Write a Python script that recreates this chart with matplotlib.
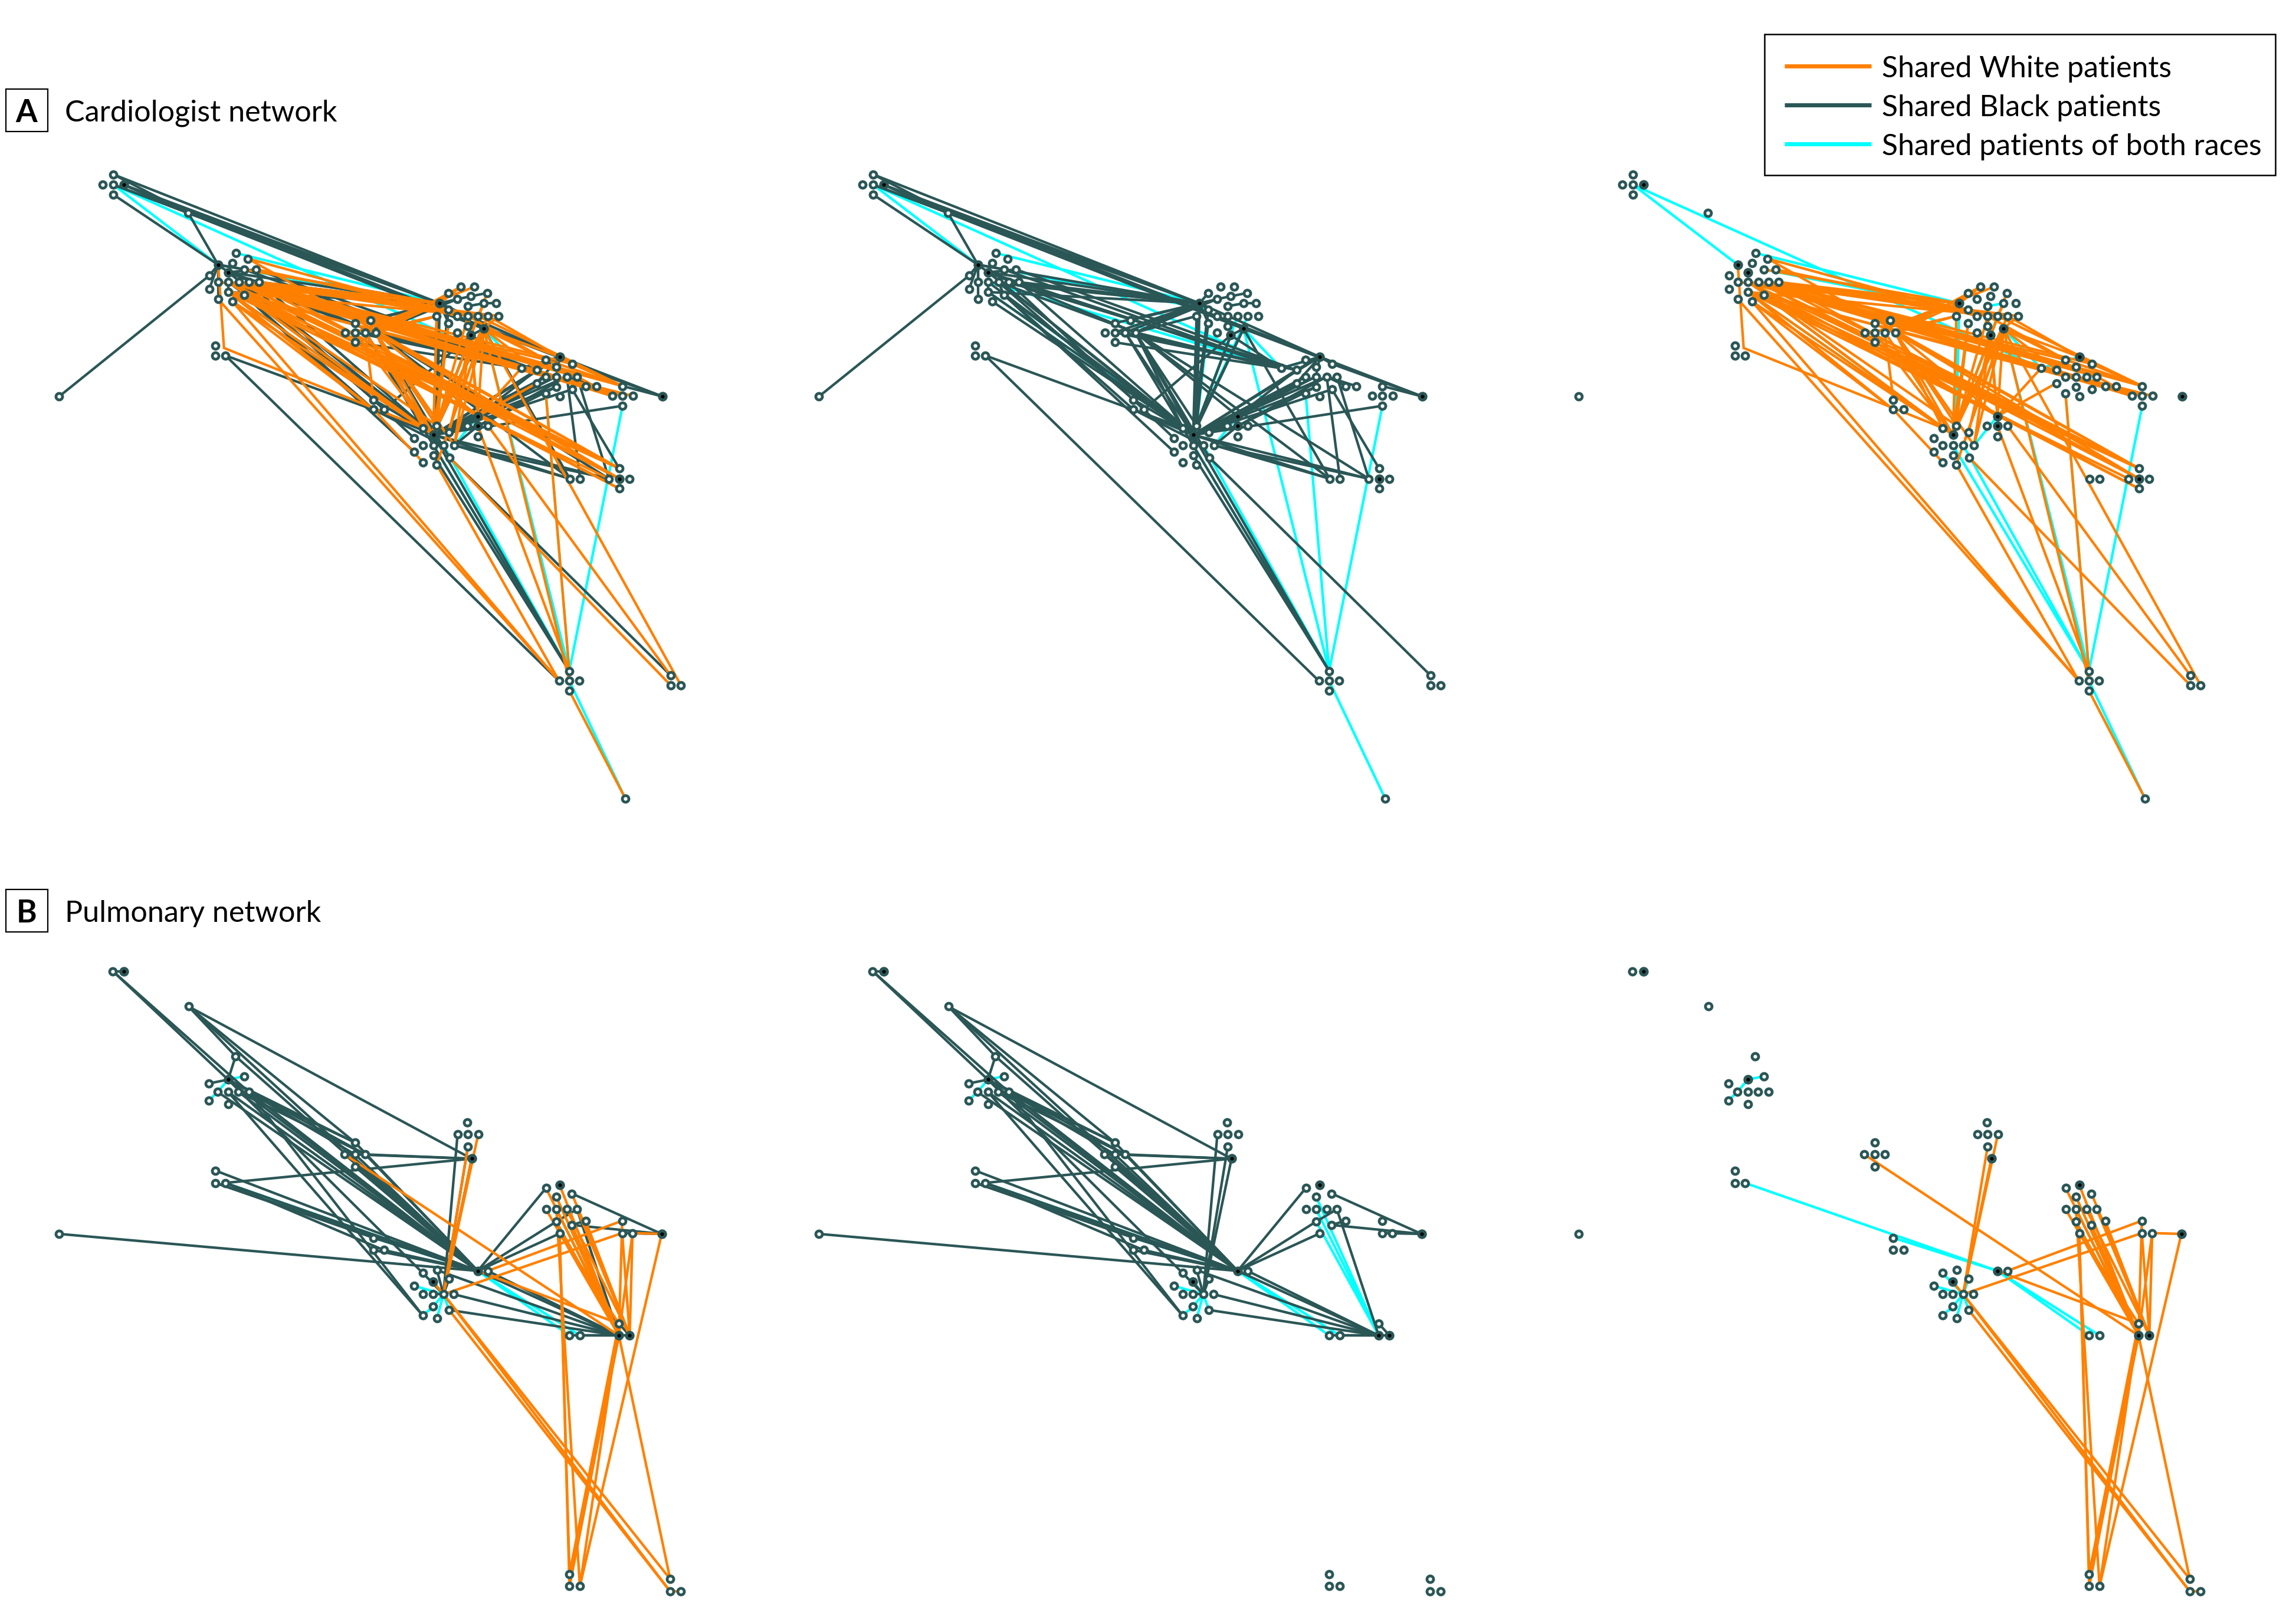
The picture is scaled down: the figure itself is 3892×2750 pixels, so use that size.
import matplotlib
matplotlib.use("Agg")
import matplotlib.pyplot as plt
from matplotlib.patches import Rectangle

W, H = 3892, 2750
ORANGE = "#ff8000"
DARK = "#2b5656"
CYAN = "#00ffff"
FONT = ["Lato", "DejaVu Sans"]

# Cardiologist network, node layout
A_nodes = {
    "a": [(232,208),(210,230),(232,230),(253,230),(232,251)],
    "s": [(385,290)],
    "b": [(446,400),(467,416),(482,375),(507,387),(475,396),(499,410),(524,410),(428,423),(446,437),
          (467,437),(488,437),(509,437),(530,437),(428,451),(467,458),(499,464),(446,473),(475,478)],
    "c": [(440,572),(440,593),(461,593)],
    "z": [(121,680)],
    "d": [(726,524),(758,518),(705,544),(726,544),(747,544),(768,544),(726,565)],
    "e": [(764,687),(764,708),(785,708)],
    "f": [(917,460),(942,447),(970,447),(996,460),(935,473),(963,467),(899,482),(957,488),(989,482),
          (1014,482),(893,509),(917,495),(935,509),(957,509),(977,509),(998,509),(1019,509),(917,524),
          (957,530),(935,545),(989,536),(963,550)],
    "g": [(1145,596),(1116,602),(1170,611),(1066,620),(1097,624),(1137,617),(1116,638),(1137,638),
          (1159,638),(1180,638),(1097,652),(1137,660),(1170,665),(1116,674),(1145,680),(1198,658),(1219,658)],
    "h": [(1273,658),(1252,679),(1273,679),(1294,679),(1273,700)],
    "k": [(1354,680)],
    "i": [(977,722),(977,743),(955,743),(998,743),(977,765)],
    "j": [(865,747),(893,742),(886,762),(918,757),(847,769),(865,784),(886,784),(907,784),(929,784),
          (847,798),(886,805),(865,820),(893,825),(919,810)],
    "l": [(1165,855),(1186,855)],
    "m": [(1245,855),(1266,855),(1287,855),(1266,833),(1266,876)],
    "n": [(1164,1264),(1143,1285),(1164,1285),(1185,1285),(1164,1306)],
    "o": [(1371,1273),(1371,1294),(1392,1294)],
    "p": [(1279,1536)],
}
A_hidden = {"x": [(458,577)]}
A_hubs = ["a3", "b0", "b1", "f6", "f20", "f21", "g0", "k0", "i0", "i1", "j2", "m1"]

A_black = """a3-f6 a0-f6 a2-f6 a3-s0 a0-s0 a2-s0 s0-f6 s0-b0 a4-b0 s0-f20 a3-g0
b0-f6 b1-f6 b9-f6 b10-f6 b11-f6 b12-f6 b1-d5 b10-d5 b1-g3 b5-g3 b12-g3 b11-g4 b6-g4 b0-b1 b0-b5
b0-b7 b0-b8 b0-b13 b0-b16 b1-b4 b1-b6 b9-b14 b10-b15 b15-j2 b9-j2 b14-j2 b1-j2 b1-j0 b17-j0 b10-e0 b11-j4
b15-e1 b15-j9 b12-j2 b14-f6 z0-b7 c2-n1 c2-j0 e0-j2 e1-j2 e1-j0 e2-f21 e1-j7
d5-f6 d4-f6 d3-f6 d1-f6 d0-f6 d5-f10 d5-g3 d4-g3 d6-g3 d3-g4 d5-j2 d4-j2 d5-j0 d5-j1 d5-j13 d5-i0
d5-m0 d5-l0 d4-j6 j2-f6 j2-f10 j2-f20 j2-f21 j1-f21 j1-f20 j1-f11 j1-f6 j2-f11 j2-f17
j2-g4 j2-g10 j2-g7 j2-g8 j2-g12 j2-g0 j2-g6 j2-g11 j2-i0 j2-i1 j2-i2 i0-g4 i0-g6 i0-g7 i1-g8 i1-g11 j2-h4
j2-l0 j2-m0 j8-l0 j8-m0 i1-j8 j2-n0 j6-n0 j10-n0 j13-o0 f20-g0 f21-g3 f6-g0 f20-k0 g0-k0 g2-k0
h0-k0 f20-l0 g8-l1 g9-m0 g12-m3 g0-g3 g0-g4 g0-g2 g0-g10 g0-g7 g8-g15 g8-g16 f6-f0 f6-f4 f4-f5 f5-f3
f6-f11 f7-f8 f8-f9 f6-f17 f20-f21 d5-f4"""

A_both = """a2-b0 a2-g3 b2-f6 f6-f0 f6-j1 f10-j1 f17-j1 f14-j1 f8-f7 b14-j0 b15-j0 j7-n0 j6-n0
n0-h4 n0-g13 n0-f20 n2-p0 i0-j8 f15-j1 f20-g3 g3-g0 b9-g3 b5-f11"""

A_white = """b5-f6 b9-f6 b10-f6 b11-f6 b12-f6 b10-f13 b11-f15 b9-f16 b8-f11 b9-g1 b10-g3 b11-g2 b12-g6 b14-g7 b10-g9
b12-g9 b9-g7 b11-h1 b10-h2 b9-h1 b10-h0 b12-h0 b6-f14 b3-f12 b12-f11 b14-f14 b15-g6
b9-m3 b10-m3 b14-m3 b15-m3 b12-m1 b14-m0 b15-m4 b10-m1 b9-m4 b11-m3 b3-m3
b15-j0 b15-j2 b14-j2 b17-j0 b9-j1 b17-n1 b16-n1 b0-x0 x0-j0 b14-e1 b17-e1 e1-j11
d5-f6 d3-f6 d5-f1 d4-f10 d5-f10 d3-f2 d5-j2 d4-j2 d3-j2 d5-j0 d5-j1 d5-j8 d4-e0 d5-m3 d5-m1 d6-i0 d5-i0
j2-f10 j1-f20 j1-f21 j1-f17 j2-f20 j2-f21 j1-f15 j7-f20 j8-f21 j8-f20 j12-f20 j1-f13
j2-f17 j3-f21 i0-f20 i0-f21 i0-g3 i0-g10 i0-f13 g13-n0 f20-n2 f20-o2 i1-n0 j13-o1 j12-n1 i3-o0
n4-p0 f20-g1 f20-g0 f20-g6 f8-f21 f20-f16 f3-f21 g1-h0 g2-h0 g9-h1 g3-h2 g7-h3 g4-h1 f1-f6 f13-g1 f15-g2
f14-h0"""

# Pulmonary network, node layout
B_nodes = {
    "q": [(240,37),(263,37)],
    "r": [(401,120)],
    "t": [(501,237),(485,292),(519,284),(444,301),(463,321),(485,321),(507,321),(529,321),(444,341),(485,350)],
    "u": [(458,506),(458,535),(479,535)],
    "z": [(126,655)],
    "v": [(755,440),(733,468),(755,468),(777,468),(755,497)],
    "w": [(994,392),(973,420),(995,420),(1017,420),(995,450),(1003,478)],
    "x": [(1161,547),(1190,540),(1216,560),(1183,568),(1161,597),(1183,597),(1205,597),(1227,597),
          (1183,626),(1245,624),(1216,634),(1190,654)],
    "y": [(1323,624),(1323,653),(1345,653),(1407,655)],
    "e": [(794,664),(794,693),(816,693)],
    "g": [(1016,742),(1037,742)],
    "k": [(929,740),(899,747),(955,760),(921,768),(880,777),(899,797),(921,797),(943,797),(965,797),
          (921,826),(955,834),(899,847),(929,854)],
    "m": [(1211,894),(1233,894),(1316,866),(1316,894),(1339,894)],
    "n": [(1211,1455),(1211,1484),(1233,1484)],
    "o": [(1425,1467),(1425,1496),(1447,1496)],
}
B_hubs = ["q1", "t1", "w5", "x1", "y3", "g0", "k3", "m3", "m4"]

B_black = """q0-q1 q0-t1 q0-t7 r0-w5 r0-t0 r0-g0 r0-v0 t0-t1 t0-g0 t1-t3 t1-v0 t1-v3 t1-g0 t4-g0 t5-g0 t6-g0 t7-g0
t6-v3 t7-v2 t5-k11 t1-k1 t7-k11 v0-g0 v1-g0 v2-g0 v3-g0 v4-g0 v3-w5 v2-w5 u2-w5 u0-g0 u1-g0 u2-g0 u1-e0 u2-e2
e0-g0 e1-g0 e2-g0 z0-g0 k7-k3 k7-k1 k7-k2 k7-k6 k7-k0 k7-w4 k7-w1 k7-w5 k0-m3 g0-m3 g1-m3 k10-m3 g0-x0 g0-x8
g0-x11 x8-x7 x2-y3 x10-y3 x7-m3 y1-y3 m0-m3 m1-m3 m3-m4 m2-m4 x9-x10 v0-t7 k8-m3"""

B_both = """u2-g0 e0-g0 t1-t2 t1-t4 t4-t8 k1-k7 k4-k7 k11-k9 k9-k7 k12-k7 k2-k7 k10-k7 g0-m0 g0-m1 x3-m3 x8-m3 x5-m3 k3-k7"""

B_white = """v1-m3 g0-m2 w3-k7 w5-k7 w4-k7 k7-y1 g1-y0 y2-y3 y1-m4 y2-m4 y0-m3 y2-m3 x0-m3 x1-m3 x2-m4 x3-m3 x4-m3 x5-m3 x6-m4
x8-m3 x9-m4 x10-m3 x11-m2 x7-m4 x11-n0 x11-n1 x5-n2 k3-k7 k7-o0 k7-o1 k10-o1 n0-m3 n1-m3 n2-m2 n0-m2 n2-y3 m3-o0 o1-o2"""

ROWS = [112, 178, 244]
LEGEND_LABELS = ["Shared White patients", "Shared Black patients", "Shared patients of both races"]
LEGEND_COLORS = [ORANGE, DARK, CYAN]


def lookup(nodes):
    pos = {}
    for name in nodes:
        for i, p in enumerate(nodes[name]):
            pos[name + str(i)] = p
    return pos


def draw_edges(ax, pos, edges, color):
    for e in edges.split():
        p, q = e.split("-")
        ax.plot([pos[p][0], pos[q][0]], [pos[p][1], pos[q][1]], color=color, lw=3.1, solid_capstyle="round", zorder=2)


def draw_panel(left, top, width, height, nodes, hubs, hidden, white, black, both):
    ax = fig.add_axes([left / W, 1 - (top + height) / H, width / W, height / H])
    ax.set_xlim(0, 1568)
    ax.set_ylim(1568, 0)
    ax.axis("off")
    ax.patch.set_alpha(0)
    pos = lookup(nodes)
    pos.update(lookup(hidden))
    if both:
        draw_edges(ax, pos, both, CYAN)
    if black:
        draw_edges(ax, pos, black, DARK)
    if white:
        draw_edges(ax, pos, white, ORANGE)
    for name, p in lookup(nodes).items():
        if name in hubs:
            ax.plot(p[0], p[1], "o", ms=11.8, mfc=DARK, mec=DARK, mew=0, zorder=3)
            ax.plot(p[0], p[1], "o", ms=4.4, mfc="black", mec="black", mew=0, zorder=4)
        else:
            ax.plot(p[0], p[1], "o", ms=8, mfc="white", mec=DARK, mew=3.4, zorder=3)


fig = plt.figure(figsize=(W / 100, H / 100), dpi=100, facecolor="white")

draw_panel(0, 130, 1300, 1250, A_nodes, A_hubs, A_hidden, A_white, A_black, A_both)
draw_panel(1288, 130, 1300, 1250, A_nodes, A_hubs, A_hidden, None, A_black, A_both)
draw_panel(2576, 130, 1300, 1250, A_nodes, A_hubs, A_hidden, A_white, None, A_both)
draw_panel(0, 1620, 1250, 1130, B_nodes, B_hubs, {}, B_white, B_black, B_both)
draw_panel(1288, 1620, 1250, 1130, B_nodes, B_hubs, {}, None, B_black, B_both)
draw_panel(2576, 1620, 1250, 1130, B_nodes, B_hubs, {}, B_white, None, B_both)

over = fig.add_axes([0, 0, 1, 1])
over.set_xlim(0, W)
over.set_ylim(H, 0)
over.axis("off")
over.patch.set_alpha(0)

# panel tags
for letter, label, yc in [("A", "Cardiologist network", 187), ("B", "Pulmonary network", 1544)]:
    over.add_patch(Rectangle((10, yc - 36), 71, 72, fc="white", ec="black", lw=1.6))
    over.text(45, yc, letter, ha="center", va="center_baseline", fontsize=38, fontweight="bold", family=FONT)
    over.text(110, yc, label, ha="left", va="center_baseline", fontsize=36.2, family=FONT)

# legend
over.add_patch(Rectangle((2991, 58), 866, 239, fc="white", ec="black", lw=1.8, zorder=5))
for y, lab, col in zip(ROWS, LEGEND_LABELS, LEGEND_COLORS):
    over.plot([3025, 3172], [y, y], color=col, lw=5, solid_capstyle="butt", zorder=6)
    over.text(3190, y, lab, ha="left", va="center_baseline", fontsize=36, family=FONT, zorder=6)

fig.savefig("out.png", dpi=100)
